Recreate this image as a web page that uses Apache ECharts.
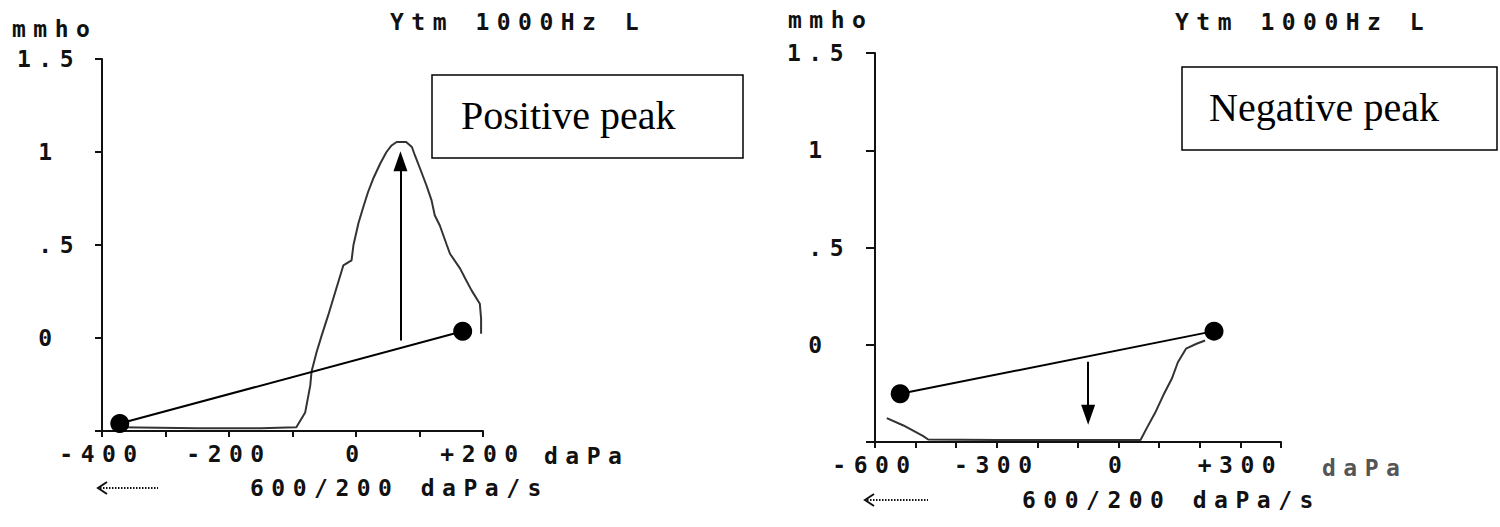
<!DOCTYPE html>
<html><head><meta charset="utf-8">
<script src="https://cdn.jsdelivr.net/npm/echarts@6/dist/echarts.min.js"></script>
<style>
html,body{margin:0;padding:0;background:#fff;}
#chart{width:1500px;height:527px;}
#chart text{white-space:pre;}
#chart text[style*="Mono"]{letter-spacing:7.5px;}
</style></head><body><div id="chart"></div>
<script>
// ---- Left panel (positive peak) ----
const leftXTicks = [-400, -200, 0, 200];
const leftXLabels = ['-400', '-200', '0', '+200'];
const yTicks = [1.5, 1, 0.5, 0];
const yLabels = ['1.5', '1 ', '.5', '0 '];
const leftCurve = [[-372,-0.48],[-250,-0.485],[-150,-0.485],[-94,-0.48],[-80,-0.40],[-72,-0.255],[-70,-0.18],[-62,-0.075],[-54,0.014],[-44,0.12],[-36,0.21],[-28,0.30],[-20,0.39],[-7,0.417],[-4,0.50],[4,0.62],[12,0.71],[19,0.785],[27,0.856],[38,0.937],[48,1.0],[56,1.035],[64,1.054],[79,1.054],[88,1.027],[93,0.98],[101,0.91],[111,0.82],[119,0.74],[124,0.66],[132,0.605],[143,0.50],[148,0.453],[164,0.373],[172,0.32],[182,0.256],[195,0.184],[197,0.104],[197,0.023]];
const leftDots = [[-372,-0.46],[168,0.036]];
const leftArrow = [[70,-0.013],[70,0.95]];
// ---- Right panel (negative peak) ----
const rightXTicks = [-600, -300, 0, 300];
const rightXLabels = ['-600', '-300', '0', '+300'];
const rightCurve = [[-571,-0.377],[-530,-0.415],[-481,-0.47],[-469,-0.487],[-300,-0.49],[-100,-0.49],[54,-0.49],[69,-0.43],[90,-0.35],[110,-0.26],[131,-0.175],[146,-0.09],[166,-0.02],[192,0.005],[213,0.022]];
const rightDots = [[-538,-0.252],[235,0.07]];
const rightArrow = [[-75,-0.087],[-75,-0.36]];
// ---- Texts ----
const unitY = 'mmho';
const titleText = 'Ytm 1000Hz L';
const unitX = 'daPa';
const speedText = '600/200 daPa/s';
const leftBoxText = 'Positive peak';
const rightBoxText = 'Negative peak';

const MONO = 'DejaVu Sans Mono';
const FS = 23;
const INK = '#111';

function labelFmt(ticks, labels) {
  return function (v) {
    for (let i = 0; i < ticks.length; i++) if (Math.abs(v - ticks[i]) < 1e-6) return labels[i];
    return '';
  };
}
function xAxisCfg(gi, min, max, ticks, labels) {
  return {
    type: 'value', gridIndex: gi, min: min, max: max, interval: 100,
    axisLine: { show: true, onZero: false, lineStyle: { color: INK, width: 2 } },
    axisTick: { show: true, length: 6, lineStyle: { color: INK, width: 2 } },
    axisLabel: { formatter: labelFmt(ticks, labels), color: INK, fontSize: FS, fontWeight: 'bold', fontFamily: MONO, margin: 11 },
    splitLine: { show: false }
  };
}
function yAxisCfg(gi, margin, tick) {
  return {
    type: 'value', gridIndex: gi, min: -0.5, max: 1.5, interval: 0.5,
    axisLine: { show: true, onZero: false, lineStyle: { color: INK, width: 2 } },
    axisTick: { show: true, length: tick, lineStyle: { color: INK, width: 2 } },
    axisLabel: { formatter: labelFmt(yTicks, yLabels), color: INK, fontSize: FS, fontWeight: 'bold', fontFamily: MONO, margin: margin },
    splitLine: { show: false }
  };
}
function arrowMark(a) {
  return {
    silent: true, symbol: ['none', 'triangle'], symbolSize: [14, 20],
    lineStyle: { type: 'solid', color: '#000', width: 2 },
    label: { show: false },
    data: [[{ coord: a[0] }, { coord: a[1] }]]
  };
}
function monoText(t, x, y, color) {
  return { type: 'text', style: { text: t, x: x, y: y, fill: color || INK, font: 'bold ' + FS + 'px "' + MONO + '"', align: 'left', verticalAlign: 'middle' } };
}
function box(x, y, w, h, t, tx, ty) {
  return [
    { type: 'rect', shape: { x: x, y: y, width: w, height: h }, style: { fill: '#fff', stroke: '#000', lineWidth: 1.5 }, z: 10 },
    { type: 'text', style: { text: t, x: tx, y: ty, fill: '#000', font: '40px "Liberation Serif"', align: 'left', verticalAlign: 'middle' }, z: 11 }
  ];
}
function backArrow(x0, x1, y) {
  return [
    { type: 'polyline', shape: { points: [[x0 + 9, y - 6], [x0, y], [x0 + 9, y + 6]] }, style: { stroke: INK, lineWidth: 2, fill: 'none' } },
    { type: 'line', shape: { x1: x0 + 2, y1: y, x2: x1, y2: y }, style: { stroke: INK, lineWidth: 2, lineDash: [1.5, 1.5] } }
  ];
}

const chart = echarts.init(document.getElementById('chart'), null, { renderer: 'svg' });
chart.setOption({
  backgroundColor: '#fff',
  animation: false,
  grid: [
    { left: 102, top: 59, width: 381, height: 372 },
    { left: 875, top: 53, width: 406, height: 389 }
  ],
  xAxis: [xAxisCfg(0, -400, 200, leftXTicks, leftXLabels), xAxisCfg(1, -600, 400, rightXTicks, rightXLabels)],
  yAxis: [yAxisCfg(0, 21, 7), yAxisCfg(1, 24, 9)],
  series: [
    { type: 'line', xAxisIndex: 0, yAxisIndex: 0, data: leftCurve, showSymbol: false, smooth: false, lineStyle: { color: '#333', width: 2 }, z: 2 },
    { type: 'line', xAxisIndex: 0, yAxisIndex: 0, data: leftDots, symbol: 'circle', symbolSize: 19, itemStyle: { color: '#000' }, lineStyle: { color: '#000', width: 2 }, markLine: arrowMark(leftArrow), z: 3 },
    { type: 'line', xAxisIndex: 1, yAxisIndex: 1, data: rightCurve, showSymbol: false, smooth: false, lineStyle: { color: '#333', width: 2 }, z: 2 },
    { type: 'line', xAxisIndex: 1, yAxisIndex: 1, data: rightDots, symbol: 'circle', symbolSize: 19, itemStyle: { color: '#000' }, lineStyle: { color: '#000', width: 2 }, markLine: arrowMark(rightArrow), z: 3 }
  ],
  graphic: [
    monoText(unitY, 12, 29),
    monoText(titleText, 390, 22),
    monoText(unitX, 544, 456),
    monoText(speedText, 250, 488),
    monoText(unitY, 788, 20),
    monoText(titleText, 1175, 22),
    monoText(unitX, 1322, 468, '#555'),
    monoText(speedText, 1022, 500)
  ].concat(box(432, 75, 311, 83, leftBoxText, 461, 115))
   .concat(box(1182, 67, 315, 83, rightBoxText, 1209, 107))
   .concat(backArrow(98, 158, 488))
   .concat(backArrow(865, 928, 500))
});
</script></body></html>
